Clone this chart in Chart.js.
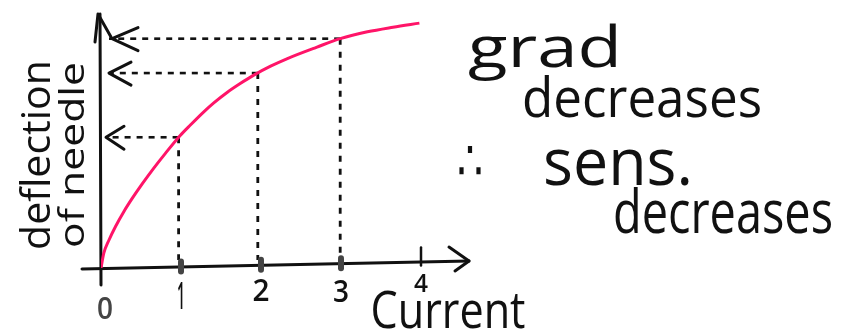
<!DOCTYPE html>
<html>
<head>
<meta charset="utf-8">
<title>Deflection of needle vs current</title>
<script src="https://cdn.jsdelivr.net/npm/chart.js@4/dist/chart.umd.min.js"></script>
<style>
  html, body { margin: 0; padding: 0; background: #fff; }
  canvas { display: block; }
</style>
</head>
<body>
<canvas id="sketch" width="850" height="333"></canvas>
<script>
// ===================== DATA =====================
const currentVals    = [0, 0.035, 0.1, 0.18, 0.285, 0.39, 0.515, 0.66, 0.805, 0.99, 1.12, 1.285, 1.41, 1.58, 1.74, 1.91, 2.12, 2.33, 2.7, 2.99, 3.33, 3.65, 3.98];
const deflectionVals = [0, 0.58, 1.1, 1.62, 2.21, 2.73, 3.3, 3.92, 4.5, 5.2, 5.62, 6.13, 6.48, 6.9, 7.24, 7.57, 7.92, 8.22, 8.67, 9.0, 9.27, 9.45, 9.61];

// read-off points marked with dotted guides
const markCurrent    = [0.97, 1.96, 2.99];
const markDeflection = [5.13, 7.65, 9.0];

const xTickVals   = [0, 1, 2, 3, 4];
const xTickLabels = ['0', '1', '2', '3', '4'];

const noteLines = ['grad', 'decreases', '∴', 'sens.', 'decreases'];

const FONT = "'Open Sans', 'DejaVu Sans', sans-serif";
const INK = '#111';
const PINK = '#ff1468';

// ===================== HELPERS =====================
// draw text squeezed/stretched to a target width
function fitText(ctx, text, x, y, w, size, opts = {}) {
  ctx.save();
  ctx.font = `${opts.weight || 400} ${size}px ${FONT}`;
  ctx.fillStyle = opts.color || INK;
  ctx.textBaseline = 'alphabetic';
  ctx.textAlign = 'left';
  ctx.translate(x, y);
  if (opts.rotate) ctx.rotate(opts.rotate);
  const m = ctx.measureText(text).width;
  ctx.scale(w / m, 1);
  ctx.fillText(text, -m / 2, 0);
  ctx.restore();
}

function stroke(ctx, pts, width, dash) {
  ctx.save();
  ctx.strokeStyle = INK;
  ctx.lineWidth = width;
  ctx.lineCap = dash ? 'butt' : 'round';
  ctx.lineJoin = 'round';
  ctx.setLineDash(dash || []);
  ctx.beginPath();
  pts.forEach(([x, y], i) => i ? ctx.lineTo(x, y) : ctx.moveTo(x, y));
  ctx.stroke();
  ctx.restore();
}

// ===================== AXES / GUIDES PLUGIN =====================
const sketchAxes = {
  id: 'sketchAxes',
  beforeDatasetsDraw(chart) {
    const { ctx, scales: { x, y } } = chart;
    const x0 = x.getPixelForValue(0), y0 = y.getPixelForValue(0);

    // dotted guides
    markCurrent.forEach((c, i) => {
      const px = x.getPixelForValue(c);
      const py = y.getPixelForValue(markDeflection[i]);
      stroke(ctx, [[px, py], [px, y0 - 8]], 2.8, [6, 7]);
      stroke(ctx, [[px, py], [x0 + 8, py]], 2.6, [6, 6]);
      // open arrow heads on the y axis
      const tip = x0 + 5 + i * 3;
      const len = 18 + i * 4;
      stroke(ctx, [[tip + len, py - 11], [tip, py], [tip + len, py + 12]], 3);
    });

    // y axis with arrow
    stroke(ctx, [[x0, y0 + 17], [x0 - 1, 14]], 3);
    stroke(ctx, [[x0 - 6, 42], [x0 - 3, 14], [x0 + 10, 37]], 3);

    // x axis with arrow
    const xEnd = x.getPixelForValue(4.6);
    stroke(ctx, [[x0 - 19, y0 + 1], [xEnd, y0 - 7]], 3);
    stroke(ctx, [[xEnd - 20, y0 - 21], [xEnd, y0 - 7], [xEnd - 14, y0 + 3]], 3);

    // ticks
    xTickVals.forEach((v) => {
      if (v === 0) return;
      const px = x.getPixelForValue(v);
      const ay = y0 - v * 1.6;
      if (v === 4) {
        stroke(ctx, [[px, ay - 14], [px, ay + 4]], 2.5);
      } else {
        ctx.save();
        ctx.strokeStyle = '#444';
        ctx.lineWidth = 6;
        ctx.lineCap = 'round';
        ctx.beginPath();
        ctx.moveTo(px, ay - 5);
        ctx.lineTo(px, ay + 5);
        ctx.stroke();
        ctx.restore();
      }
    });
  },
  afterDatasetsDraw(chart) {
    const { ctx, scales: { x } } = chart;

    // tick labels
    const labY = [319, 309, 301, 302, 292];
    const labW = [16, 8, 17, 16, 14];
    const labS = [30, 38, 30, 30, 26];
    xTickVals.forEach((v, i) => {
      const px = x.getPixelForValue(v) + (v === 0 ? 4 : 0);
      fitText(ctx, xTickLabels[i], px, labY[i], labW[i], labS[i], { color: v === 0 ? '#444' : INK, weight: 600 });
    });

    // axis titles
    fitText(ctx, 'Current', 448, 328, 155, 52);
    fitText(ctx, 'deflection', 50, 155, 190, 40, { rotate: -Math.PI / 2 });
    fitText(ctx, 'of needle', 84, 155, 186, 34, { rotate: -Math.PI / 2 });

    // notes on the right
    fitText(ctx, noteLines[0], 545, 67, 154, 56);
    fitText(ctx, noteLines[1], 642, 117, 240, 54);
    fitText(ctx, noteLines[2], 470, 180, 26, 56);
    fitText(ctx, noteLines[3], 618, 185, 150, 66);
    fitText(ctx, noteLines[4], 723, 233, 220, 60);
  }
};

// ===================== CHART =====================
const ctx = document.getElementById('sketch').getContext('2d');
new Chart(ctx, {
  type: 'scatter',
  data: {
    datasets: [{
      label: 'deflection of needle',
      data: currentVals.map((c, i) => ({ x: c, y: deflectionVals[i] })),
      showLine: true,
      borderColor: PINK,
      borderWidth: 3,
      pointRadius: 0,
      cubicInterpolationMode: 'monotone',
    }]
  },
  options: {
    responsive: false,
    animation: false,
    layout: { padding: { left: 101, right: 381, top: 3, bottom: 65 } },
    plugins: { legend: { display: false }, tooltip: { enabled: false } },
    scales: {
      x: { type: 'linear', min: 0, max: 4.6, display: false },
      y: { type: 'linear', min: 0, max: 10.4, display: false },
    },
  },
  plugins: [sketchAxes],
});
</script>
</body>
</html>
